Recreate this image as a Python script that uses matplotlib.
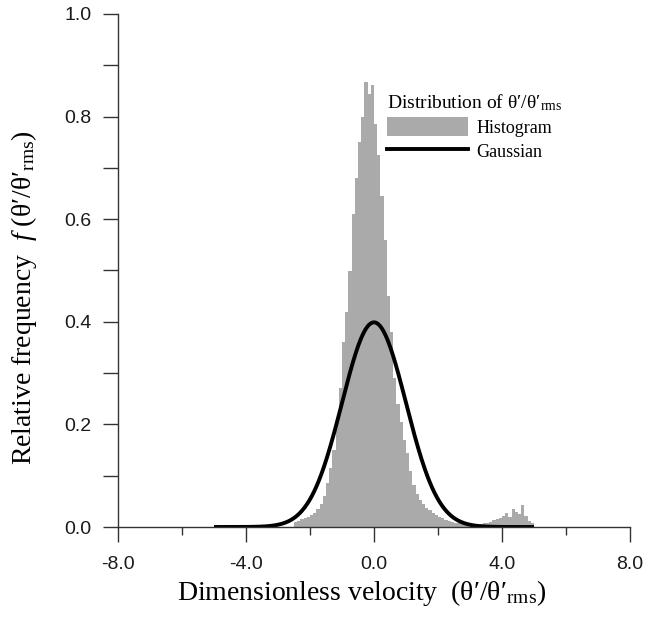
import numpy as np
import matplotlib
matplotlib.use("Agg")
import matplotlib.pyplot as plt
from matplotlib.ticker import MultipleLocator, FormatStrFormatter
from matplotlib.lines import Line2D
from matplotlib.patches import Patch

plt.rcParams['mathtext.fontset'] = 'custom'
plt.rcParams['mathtext.rm'] = 'Liberation Serif'
plt.rcParams['mathtext.it'] = 'Liberation Serif:italic'

# histogram bins (width 0.1) from -2.5 to 5.0, heights
bin_edges = np.round(np.arange(-2.5, 5.001, 0.1), 2)
hist_vals = [0.010, 0.012, 0.015, 0.017, 0.020, 0.024, 0.028, 0.035, 0.045, 0.060,
             0.085, 0.115, 0.150, 0.205, 0.270, 0.360, 0.420, 0.500, 0.610, 0.680,
             0.750, 0.800, 0.868, 0.845, 0.862, 0.785, 0.725, 0.645, 0.560, 0.450,
             0.380, 0.290, 0.240, 0.205, 0.170, 0.145, 0.110, 0.082, 0.065, 0.053,
             0.045, 0.038, 0.033, 0.028, 0.024, 0.020, 0.017, 0.014, 0.011, 0.009,
             0.008, 0.007, 0.006, 0.006, 0.005, 0.005, 0.005, 0.005, 0.006, 0.007,
             0.008, 0.010, 0.013, 0.016, 0.018, 0.022, 0.028, 0.020, 0.035, 0.030,
             0.025, 0.043, 0.022, 0.012, 0.008]

# reference Gaussian (standard normal)
gauss_mu = 0.0
gauss_sigma = 1.0
gauss_range = (-5.0, 5.0)

x_ticks = [-8.0, -4.0, 0.0, 4.0, 8.0]
y_ticks = [0.0, 0.2, 0.4, 0.6, 0.8, 1.0]

fig = plt.figure(figsize=(6.47, 6.22), dpi=100)
ax = fig.add_axes([118/647, 1 - 527/622, 512/647, 513/622])

ax.stairs(hist_vals, bin_edges, fill=True, color='#aaaaaa', linewidth=0)

xg = np.linspace(gauss_range[0], gauss_range[1], 400)
yg = np.exp(-0.5 * ((xg - gauss_mu) / gauss_sigma) ** 2) / (gauss_sigma * np.sqrt(2 * np.pi))
ax.plot(xg, yg, color='black', lw=2.8, solid_capstyle='butt')

ax.set_xlim(-8, 8)
ax.set_ylim(0, 1.0)
ax.set_xticks(x_ticks)
ax.set_yticks(y_ticks)
ax.xaxis.set_minor_locator(MultipleLocator(2))
ax.yaxis.set_minor_locator(MultipleLocator(0.1))
ax.xaxis.set_major_formatter(FormatStrFormatter('%.1f'))
ax.yaxis.set_major_formatter(FormatStrFormatter('%.1f'))

for s in ['top', 'right']:
    ax.spines[s].set_visible(False)
for s in ['left', 'bottom']:
    ax.spines[s].set_linewidth(1.0)
    ax.spines[s].set_color('#333333')

ax.tick_params(which='major', direction='out', length=11, width=1.0, color='#333333',
               labelsize=14, labelcolor='#1a1a1a')
ax.tick_params(axis='x', which='major', pad=10)
ax.tick_params(axis='y', which='major', pad=8)
ax.tick_params(axis='x', which='minor', direction='out', length=6, width=1.0, color='#333333')
ax.tick_params(axis='y', which='minor', direction='out', length=11, width=1.0, color='#333333')
for lab in ax.get_xticklabels() + ax.get_yticklabels():
    lab.set_family('Liberation Sans')

serif = ['Liberation Serif', 'DejaVu Serif']
fig.text(362/647, 1 - 593/622, 'Dimensionless velocity  (\u03b8\u2032/\u03b8\u2032$_\\mathregular{rms}$)',
         ha='center', va='center', fontsize=20, family=serif)
fig.text(24/647, 1 - 298/622, 'Relative frequency  $\\mathit{f}$ (\u03b8\u2032/\u03b8\u2032$_\\mathregular{rms}$)',
         ha='center', va='center', rotation=90, fontsize=20, family=serif)

handles = [Patch(facecolor='#aaaaaa', edgecolor='none'),
           Line2D([], [], color='black', lw=2.8)]
leg = ax.legend(handles, ['Histogram', 'Gaussian'],
                title='Distribution of \u03b8\u2032/\u03b8\u2032$_\\mathregular{rms}$',
                loc='upper left', bbox_to_anchor=(0.525, 0.848), frameon=False,
                prop={'family': serif, 'size': 13}, title_fontproperties={'family': serif, 'size': 14},
                handlelength=4.5, handleheight=1.25, handletextpad=0.45, labelspacing=0.25,
                borderpad=0, borderaxespad=0, alignment='left')

fig.savefig('out.png', dpi=100)
